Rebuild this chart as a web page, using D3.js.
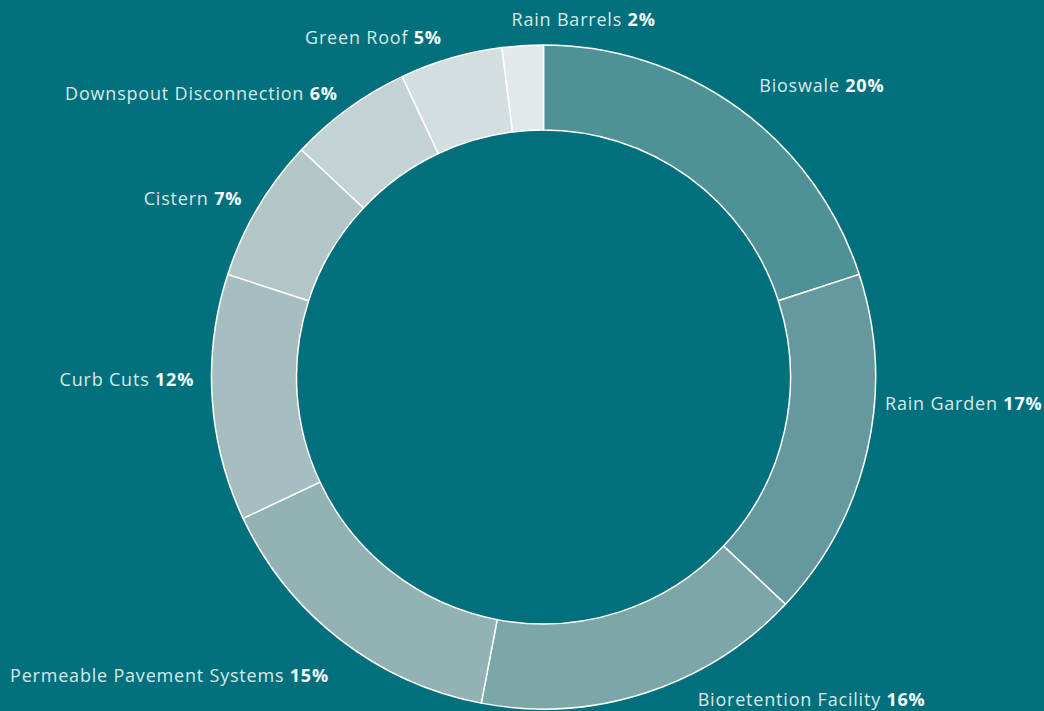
<!DOCTYPE html>
<html>
<head>
<meta charset="utf-8">
<script src="https://cdn.jsdelivr.net/npm/d3@7"></script>
<style>
  html, body { margin: 0; padding: 0; background: #00717c; overflow: hidden; }
  svg { display: block; }
  .lbl { font-family: "Open Sans", sans-serif; font-size: 18px; letter-spacing: 0.8px; fill: #d6e9ea; }
  .lbl .pct { font-weight: 700; fill: #f4f9f9; }
</style>
</head>
<body>
<svg class="chart"></svg>
<script>
const categories = ['Bioswale', 'Rain Garden', 'Bioretention Facility', 'Permeable Pavement Systems',
  'Curb Cuts', 'Cistern', 'Downspout Disconnection', 'Green Roof', 'Rain Barrels'];
const shares = [20, 17, 16, 15, 12, 7, 6, 5, 2];
const colors = ['#4e9297', '#66999f', '#7da6a9', '#93b2b4', '#a6bebf', '#b2c6c7', '#c3d3d5', '#d2dedf', '#e3e9e9'];

const width = 1044;
const height = 711;
const cx = 543.5, cy = 377;
const outerR = 332, innerR = 247;

// hand nudges so labels sit where the original put them
const nudge = {
  'Rain Garden': [0, -50],
  'Bioretention Facility': [46, -10],
  'Permeable Pavement Systems': [0, 22],
  'Curb Cuts': [0, -19],
  'Bioswale': [10, -8],
  'Green Roof': [-4, -3],
  'Rain Barrels': [-10, -8]
};

const data = categories.map((c, i) => ({name: c, value: shares[i], color: colors[i]}));

const svg = d3.select('.chart')
  .attr('width', width)
  .attr('height', height);

const g = svg.append('g').attr('transform', 'translate(' + cx + ',' + cy + ')');

const pie = d3.pie().sort(null).value(d => d.value);
const arc = d3.arc().innerRadius(innerR).outerRadius(outerR);

const arcs = pie(data);

g.selectAll('path.slice')
  .data(arcs)
  .enter().append('path')
  .attr('class', 'slice')
  .attr('fill', d => d.data.color)
  .attr('stroke', '#ffffff')
  .attr('stroke-width', 1.5)
  .attr('stroke-linejoin', 'round')
  .attr('d', arc);

const labelR = 350;
const lbl = g.selectAll('text.lbl')
  .data(arcs)
  .enter().append('text')
  .attr('class', 'lbl')
  .each(function(d) {
    const a = (d.startAngle + d.endAngle) / 2;
    const n = nudge[d.data.name] || [0, 0];
    const x = labelR * Math.sin(a) + n[0];
    const y = -labelR * Math.cos(a) + n[1];
    let anchor = Math.sin(a) >= 0 ? 'start' : 'end';
    if (d.data.name === 'Rain Barrels') anchor = 'start';
    d3.select(this)
      .attr('x', x)
      .attr('y', y)
      .attr('dy', '0.35em')
      .attr('text-anchor', anchor);
  });

lbl.append('tspan').text(d => d.data.name + ' ');
lbl.append('tspan').attr('class', 'pct').text(d => d.data.value + '%');
</script>
</body>
</html>
